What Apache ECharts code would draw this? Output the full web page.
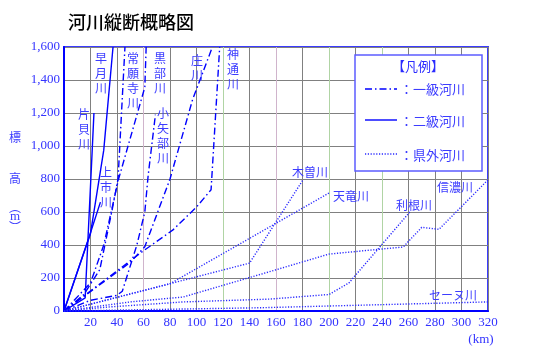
<!DOCTYPE html>
<html><head><meta charset="utf-8">
<script src="https://cdn.jsdelivr.net/npm/echarts@6/dist/echarts.min.js"></script>
<style>html,body{margin:0;padding:0;background:#fff}#c{width:543px;height:357px}</style>
</head><body><div id="c"></div>
<script>
// ---- data (km, elevation m) ----
const titleText = '河川縦断概略図';
const xMin = 0, xMax = 320, xStep = 20;
const yMin = 0, yMax = 1600, yStep = 200;

// 二級河川 (solid)
const katakai   = [[0,0],[16,80],[16.5,170],[21.2,960],[22.6,1200]];
const hayatsuki = [[0,0],[20,470],[30,975],[37,1600]];
const kamiichi  = [[0,0],[19,450],[27.5,660]];
// 一級河川 (dash-dot)
const joganji = [[0,0],[15,100],[27,250],[36,600],[40.8,800],[46,1600]];
const kurobe  = [[0,0],[20,170],[30,400],[41,794],[61,1356],[62,1600]];
const oyabe   = [[0,0],[20,65],[40,95],[44,120],[55,400],[61,600],[63.5,820],[69,1190]];
const sho     = [[0,0],[50,295],[61,390],[80,800],[97,1280],[112,1600]];
const jinzu   = [[0,0],[60,365],[82,490],[100,630],[111,735],[117.5,1600]];
// 県外河川 (dotted)
const kiso    = [[0,0],[140,290],[180,790]];
const tenryu  = [[0,0],[80,165],[200,715]];
const tone    = [[0,0],[35,25],[90,55],[155,72],[200,100],[215,170],[261,600]];
const shinano = [[0,0],[50,55],[90,85],[155,238],[200,345],[256,388],[270,507],[283,495],[320,795]];
const seine   = [[0,0],[150,20],[320,55]];

const legendTitle = '【凡例】';
const legendItems = ['：一級河川','：二級河川','：県外河川'];
const yAxisName = ['標','高','︵','m','︶'];
const xUnit = '(km)';

// ---- styling ----
const BLUE = '#0000ff';
const TXT = '#3333ff';
const DASHDOT = [7,3,1.5,3];
const DOT = [1.2,1.6];
const styles = {
  solid:   {color: BLUE, width: 1.4, type: 'solid'},
  dashdot: {color: BLUE, width: 1.4, type: DASHDOT},
  dotted:  {color: '#2a2aff', width: 1.4, type: DOT}
};
function ser(name, data, kind){
  return {name, type:'line', data, symbol:'none', silent:true, animation:false,
    lineStyle: Object.assign({}, styles[kind]), z: 3};
}
const series = [
  ser('片貝川', katakai, 'solid'), ser('早月川', hayatsuki, 'solid'), ser('上市川', kamiichi, 'solid'),
  ser('常願寺川', joganji, 'dashdot'), ser('黒部川', kurobe, 'dashdot'), ser('小矢部川', oyabe, 'dashdot'),
  ser('庄川', sho, 'dashdot'), ser('神通川', jinzu, 'dashdot'),
  ser('木曽川', kiso, 'dotted'), ser('天竜川', tenryu, 'dotted'), ser('利根川', tone, 'dotted'),
  ser('信濃川', shinano, 'dotted'), ser('セーヌ川', seine, 'dotted')
];

const GRAY = '#808080';
const xSplitColors = [];
for (let v = xMin; v <= xMax; v += xStep) {
  let c = GRAY;
  if (v === 120 || v === 200 || v === 240) c = '#b0d4a4';
  if (v === 60 || v === 160) c = '#d0b4cc';
  xSplitColors.push(c);
}

const SERIF = '"Liberation Serif","DejaVu Serif",serif';
const JP = '"Noto Sans CJK JP","Noto Sans CJK SC",sans-serif';

function vlabel(text, x, y){
  return {type:'text', x, y, z:10, silent:true,
    style:{text: text.split('').join('\n'), font:'12px '+JP, fill:'#3c3cff', align:'center', verticalAlign:'top', lineHeight:15}};
}
function hlabel(text, x, y){
  return {type:'text', x, y, z:10, silent:true,
    style:{text, font:'12px '+JP, fill:'#3c3cff', align:'center', verticalAlign:'middle'}};
}

const graphics = [
  {type:'text', x:68, y:22, style:{text:titleText, font:'500 18px '+JP, fill:'#000', verticalAlign:'middle'}},
  // legend box
  {type:'rect', shape:{x:355,y:55,width:127,height:116}, z:20, style:{fill:'#fff', stroke:'#5c5cff', lineWidth:1.5}},
  {type:'text', x:418, y:66, z:21, style:{text:legendTitle, font:'13px '+JP, fill:'#2a2aff', align:'center', verticalAlign:'middle'}},
  {type:'line', shape:{x1:365,y1:89,x2:397,y2:89}, z:21, style:{stroke:BLUE, lineWidth:1.4, lineDash:DASHDOT}},
  {type:'line', shape:{x1:365,y1:120,x2:397,y2:120}, z:21, style:{stroke:BLUE, lineWidth:1.4}},
  {type:'line', shape:{x1:365,y1:154,x2:397,y2:154}, z:21, style:{stroke:'#2a2aff', lineWidth:1.4, lineDash:DOT}},
  {type:'text', x:400, y:89, z:21, style:{text:legendItems[0], font:'13px '+JP, fill:'#3c3cff', verticalAlign:'middle'}},
  {type:'text', x:400, y:121, z:21, style:{text:legendItems[1], font:'13px '+JP, fill:'#3c3cff', verticalAlign:'middle'}},
  {type:'text', x:400, y:155, z:21, style:{text:legendItems[2], font:'13px '+JP, fill:'#3c3cff', verticalAlign:'middle'}},
  // river labels
  vlabel('片貝川', 84, 107),
  vlabel('早月川', 101, 51),
  vlabel('常願寺川', 133, 51),
  vlabel('黒部川', 160, 51),
  vlabel('小矢部川', 163, 106),
  vlabel('庄川', 197, 53),
  vlabel('神通川', 233, 47),
  vlabel('上市川', 106, 165),
  hlabel('木曽川', 310, 172),
  hlabel('天竜川', 351, 196),
  hlabel('利根川', 414, 205),
  hlabel('信濃川', 455, 187),
  hlabel('セーヌ川', 453, 295),
  {type:'text', x:481, y:340, style:{text:xUnit, font:'13px '+SERIF, fill:TXT, align:'center', verticalAlign:'middle'}},
  // y axis name
  {type:'text', x:15, y:137, style:{text:yAxisName[0], font:'12px '+JP, fill:'#3c3cff', align:'center', verticalAlign:'middle'}},
  {type:'text', x:15, y:178, style:{text:yAxisName[1], font:'12px '+JP, fill:'#3c3cff', align:'center', verticalAlign:'middle'}},
  {type:'text', x:15, y:207, style:{text:yAxisName[2], font:'12px '+JP, fill:'#3c3cff', align:'center', verticalAlign:'middle'}},
  {type:'text', x:15, y:217, style:{text:yAxisName[3], font:'13px '+SERIF, fill:'#3c3cff', align:'center', verticalAlign:'middle'}},
  {type:'text', x:15, y:227, style:{text:yAxisName[4], font:'12px '+JP, fill:'#3c3cff', align:'center', verticalAlign:'middle'}}
];

const chart = echarts.init(document.getElementById('c'), null, {renderer:'canvas'});
chart.setOption({
  animation:false,
  backgroundColor:'#fff',
  grid:{left:64, right:55, top:47, bottom:46, show:true, borderColor:'#3a3aff', borderWidth:2, backgroundColor:'transparent'},
  xAxis:{type:'value', min:xMin, max:xMax, interval:xStep,
    axisLine:{show:true, onZero:false, lineStyle:{color:BLUE, width:2}},
    axisTick:{show:false},
    axisLabel:{color:TXT, fontFamily:'"Liberation Serif","DejaVu Serif",serif', fontSize:13, margin:5,
      formatter:v => v === 0 ? '' : String(v)},
    splitLine:{show:true, lineStyle:{color:xSplitColors, width:1}}
  },
  yAxis:{type:'value', min:yMin, max:yMax, interval:yStep,
    axisLine:{show:true, lineStyle:{color:BLUE, width:2}},
    axisTick:{show:false},
    axisLabel:{color:TXT, fontFamily:'"Liberation Serif","DejaVu Serif",serif', fontSize:13, margin:4,
      formatter:v => v.toLocaleString('en-US')},
    splitLine:{show:true, lineStyle:{color:GRAY, width:1}}
  },
  series,
  graphic: graphics
});
</script></body></html>
